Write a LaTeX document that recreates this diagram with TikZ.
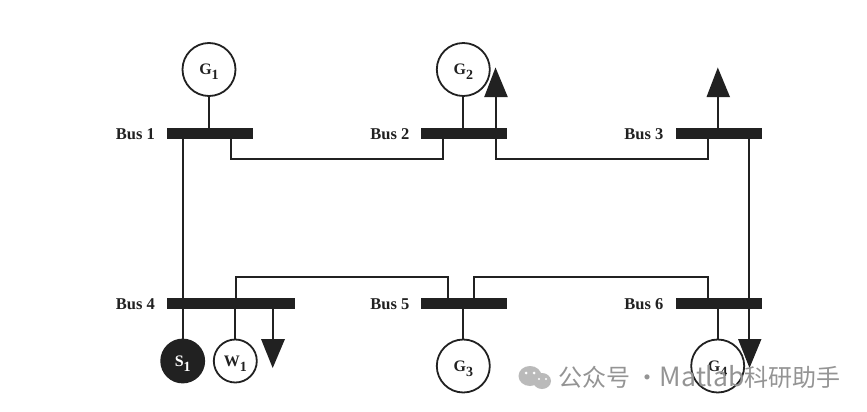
\documentclass[tikz,border=0pt]{standalone}
\usepackage{fontspec}
\setmainfont{Liberation Serif}
\newfontfamily\cjkwm{Noto Sans CJK SC}
\newcommand{\lowidx}[1]{\smash{\raisebox{-5pt}{\fontsize{14}{14}\selectfont #1}}}
\begin{document}
\begin{tikzpicture}[x=1pt,y=-1pt,
  ink/.style={draw=black!87},
  wire/.style={ink,line width=2pt},
  busbar/.style={rectangle,fill=black!87,draw=none,inner sep=0pt,minimum height=11.5pt},
  buslabel/.style={font=\bfseries\fontsize{16.5}{18}\selectfont,text=black!87,anchor=east,inner sep=0pt},
  gen/.style={circle,draw=black!87,fill=white,line width=1.8pt,inner sep=0pt,minimum size=53pt,font=\bfseries\fontsize{16}{18}\selectfont,text=black!87},
  small/.style={gen,minimum size=43pt},
  solar/.style={small,fill=black!87,text=white},
  loadtip/.style={fill=black!87,draw=none}]
\useasboundingbox (0,0) rectangle (867,412);
\fill[white] (0,0) rectangle (867,412);

% buses
\node[busbar,minimum width=86pt]  (b1) at (210,133.5) {};
\node[busbar,minimum width=86pt]  (b2) at (464,133.5) {};
\node[busbar,minimum width=86pt]  (b3) at (718.7,133.5) {};
\node[busbar,minimum width=128pt] (b4) at (231,303.5) {};
\node[busbar,minimum width=86pt]  (b5) at (464,303.5) {};
\node[busbar,minimum width=86pt]  (b6) at (718.7,303.5) {};
\node[buslabel] (l1) at (155,134.5) {Bus 1};
\node[buslabel] (l2) at (409.5,134.5) {Bus 2};
\node[buslabel] (l3) at (663.5,134.5) {Bus 3};
\node[buslabel] (l4) at (155,304) {Bus 4};
\node[buslabel] (l5) at (409.5,304) {Bus 5};
\node[buslabel] (l6) at (663.5,304) {Bus 6};

% machines
\node[gen] (g1) at (209,69.5) {G\lowidx{1}};
\node[gen] (g2) at (463.3,69.5) {G\lowidx{2}};
\node[gen] (g3) at (463.3,366) {G\lowidx{3}};
\node[gen] (g4) at (717.7,366) {G\lowidx{4}};
\node[solar] (s1) at (182.7,361) {S\lowidx{1}};
\node[small] (w1) at (235.3,361) {W\lowidx{1}};

% load arrow bases
\coordinate (t2) at (496.2,97);
\coordinate (t3) at (718,97);
\coordinate (t4) at (272.7,339);
\coordinate (t6) at (749.3,339);

% connectors
\draw[wire] (b1.south -| 183,0) -- (b4.north -| 183,0);
\draw[wire] (b3.south -| 749.3,0) -- (b6.north -| 749.3,0);
\draw[wire] (b1.south -| 231,0) -- (231,159) -- (443,159) -- (b2.south -| 443,0);
\draw[wire] (b2.south -| 495.7,0) -- (495.7,159) -- (707.7,159) -- (b3.south -| 707.7,0);
\draw[wire] (b4.north -| 236,0) -- (236,277) -- (448,277) -- (b5.north -| 448,0);
\draw[wire] (b5.north -| 473.7,0) -- (473.7,277) -- (707.7,277) -- (b6.north -| 707.7,0);
\draw[wire] (g1) -- (b1.north -| g1);
\draw[wire] (g2) -- (b2.north -| g2);
\draw[wire] (g3) -- (b5.south -| g3);
\draw[wire] (g4) -- (b6.south -| g4);
\draw[wire] (s1) -- (b4.south -| s1);
\draw[wire] (w1) -- (b4.south -| w1);
\draw[wire] (b2.north -| t2) -- (t2);
\draw[wire] (b3.north -| t3) -- (t3);
\draw[wire] (b4.south -| t4) -- (t4);
\draw[wire] (b6.south -| t6) -- (t6);

% arrowheads
\fill[loadtip] (484.2,97) -- (495.5,67.5) -- (507.8,97) -- cycle;
\fill[loadtip] (706.5,97) -- (717.8,67.5) -- (730,97) -- cycle;
\fill[loadtip] (261,339) -- (272.7,368) -- (285,339) -- cycle;
\fill[loadtip] (738,339) -- (749.5,368) -- (761.5,339) -- cycle;

% watermark
\fill[black!27] (530,376) ellipse (11.5pt and 10pt);
\fill[black!27] (542,381) ellipse (9pt and 8pt);
\fill[white] (526,373) circle (1.5pt) (534,373) circle (1.5pt) (539,379) circle (1.2pt) (546,379) circle (1.2pt);
\node[anchor=west,inner sep=0pt,text=black!42,font=\cjkwm\fontsize{24}{26}\selectfont] (wm) at (558,377) {公众号 ·\kern-5pt{} {\fontsize{26.5}{26}\selectfont Matlab}科研助手};
\end{tikzpicture}
\end{document}
